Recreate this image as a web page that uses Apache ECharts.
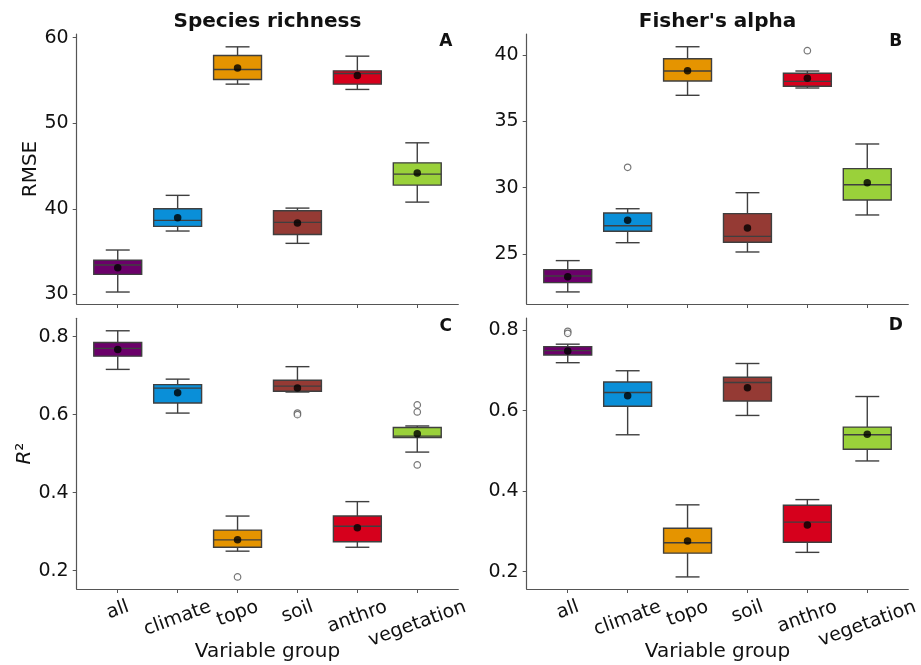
<!DOCTYPE html>
<html><head><meta charset="utf-8">
<script src="https://cdn.jsdelivr.net/npm/echarts@6/dist/echarts.min.js"></script>
<style>html,body{margin:0;padding:0;background:#fff}#c{width:921px;height:665px}</style>
</head><body><div id="c"></div>
<script>
// ---------- data ----------
const categories = ['all', 'climate', 'topo', 'soil', 'anthro', 'vegetation'];
const groupColors = ['#6b006a', '#0a8fd8', '#e59400', '#953a34', '#d6001c', '#9ad13a'];

// box stats per category: [low whisker, Q1, median, Q3, high whisker]
const richnessRmseBox = [
  [30.27, 32.33, 33.42, 34.00, 35.18],
  [37.40, 37.94, 38.64, 40.00, 41.57],
  [54.57, 55.12, 56.28, 57.92, 58.93],
  [35.96, 37.00, 38.41, 39.77, 40.08],
  [53.95, 54.57, 55.82, 56.12, 57.84],
  [40.78, 42.77, 44.05, 45.37, 47.71]
];
const richnessRmseMean = [33.10, 38.95, 56.47, 38.33, 55.58, 44.17];
const richnessRmseOutliers = [];

const alphaRmseBox = [
  [22.14, 22.84, 23.34, 23.82, 24.50],
  [25.85, 26.71, 27.13, 28.09, 28.41],
  [36.96, 38.04, 38.79, 39.72, 40.62],
  [25.15, 25.88, 26.33, 28.04, 29.62],
  [37.51, 37.64, 38.01, 38.62, 38.79],
  [27.94, 29.07, 30.22, 31.43, 33.29]
];
const alphaRmseMean = [23.29, 27.54, 38.81, 26.96, 38.24, 30.37];
const alphaRmseOutliers = [[1, 31.53], [4, 40.32]];

const richnessR2Box = [
  [0.716, 0.750, 0.770, 0.785, 0.815],
  [0.604, 0.630, 0.668, 0.677, 0.691],
  [0.250, 0.260, 0.279, 0.304, 0.340],
  [0.658, 0.660, 0.673, 0.688, 0.723],
  [0.260, 0.274, 0.314, 0.340, 0.377],
  [0.504, 0.541, 0.545, 0.567, 0.571]
];
const richnessR2Mean = [0.767, 0.656, 0.279, 0.668, 0.310, 0.551];
const richnessR2Outliers = [[2, 0.184], [3, 0.604], [3, 0.600], [5, 0.625], [5, 0.607], [5, 0.471]];

const alphaR2Box = [
  [0.719, 0.738, 0.749, 0.759, 0.765],
  [0.540, 0.611, 0.645, 0.671, 0.699],
  [0.187, 0.246, 0.272, 0.308, 0.366],
  [0.588, 0.624, 0.670, 0.683, 0.717],
  [0.248, 0.273, 0.323, 0.365, 0.379],
  [0.475, 0.504, 0.540, 0.559, 0.635]
];
const alphaR2Mean = [0.748, 0.637, 0.276, 0.657, 0.316, 0.541];
const alphaR2Outliers = [[0, 0.797], [0, 0.792]];

const rmseRichTicks = [30, 40, 50, 60];
const rmseAlphaTicks = [25, 30, 35, 40];
const r2Ticks = [0.2, 0.4, 0.6, 0.8];

const panelTitles = ['Species richness', "Fisher's alpha"];
const panelLetters = ['A', 'B', 'C', 'D'];
const xAxisTitle = 'Variable group';

// ---------- layout ----------
const FONT = '"DejaVu Sans", "Liberation Sans", sans-serif';
const AXIS_COLOR = '#555555';
const EDGE = '#3f3f3f';
const panels = [
  { box: richnessRmseBox, mean: richnessRmseMean, out: richnessRmseOutliers, ticks: rmseRichTicks, dec: 0,
    min: 28.87, max: 60.43, grid: { left: 76.7, top: 34, width: 381.6, height: 270 }, yName: 'RMSE', bottom: false },
  { box: alphaRmseBox, mean: alphaRmseMean, out: alphaRmseOutliers, ticks: rmseAlphaTicks, dec: 0,
    min: 21.23, max: 41.58, grid: { left: 526.7, top: 34, width: 381.6, height: 270 }, yName: '', bottom: false },
  { box: richnessR2Box, mean: richnessR2Mean, out: richnessR2Outliers, ticks: r2Ticks, dec: 1,
    min: 0.153, max: 0.847, grid: { left: 76.7, top: 318.3, width: 381.6, height: 270.7 }, yName: '{i|R}{n|²}', bottom: true },
  { box: alphaR2Box, mean: alphaR2Mean, out: alphaR2Outliers, ticks: r2Ticks, dec: 1,
    min: 0.157, max: 0.830, grid: { left: 526.7, top: 318, width: 381.6, height: 271 }, yName: '', bottom: true }
];

function renderBox(params, api) {
  const i = api.value(0);
  const lo = api.coord([i, api.value(1)]);
  const q1 = api.coord([i, api.value(2)]);
  const md = api.coord([i, api.value(3)]);
  const q3 = api.coord([i, api.value(4)]);
  const hi = api.coord([i, api.value(5)]);
  const unit = api.size([1, 0])[0];
  const w = unit * 0.8;
  const cx = lo[0];
  const lw = { stroke: EDGE, lineWidth: 1.4 };
  return {
    type: 'group',
    children: [
      { type: 'line', shape: { x1: cx, y1: hi[1], x2: cx, y2: q3[1] }, style: lw },
      { type: 'line', shape: { x1: cx, y1: q1[1], x2: cx, y2: lo[1] }, style: lw },
      { type: 'line', shape: { x1: cx - w / 4, y1: hi[1], x2: cx + w / 4, y2: hi[1] }, style: lw },
      { type: 'line', shape: { x1: cx - w / 4, y1: lo[1], x2: cx + w / 4, y2: lo[1] }, style: lw },
      { type: 'rect', shape: { x: cx - w / 2, y: q3[1], width: w, height: q1[1] - q3[1] },
        style: { fill: groupColors[i], stroke: EDGE, lineWidth: 1.4 } },
      { type: 'line', shape: { x1: cx - w / 2, y1: md[1], x2: cx + w / 2, y2: md[1] }, style: lw }
    ]
  };
}

const catIdx = categories.map((c, i) => i);
const option = {
  animation: false,
  backgroundColor: '#ffffff',
  textStyle: { fontFamily: FONT },
  grid: panels.map(p => Object.assign({ containLabel: false }, p.grid)),
  xAxis: panels.map((p, k) => ({
    type: 'value', gridIndex: k, min: -0.685, max: 5.685,
    axisLine: { show: true, onZero: false, lineStyle: { color: AXIS_COLOR, width: 1.2 } },
    axisTick: { show: true, customValues: catIdx, length: 4, lineStyle: { color: AXIS_COLOR, width: 1 } },
    axisLabel: { show: false, customValues: catIdx },
    splitLine: { show: false },
    name: p.bottom ? xAxisTitle : '', nameLocation: 'middle', nameGap: 53,
    nameTextStyle: { fontSize: 20, color: '#111', fontFamily: FONT }
  })),
  yAxis: panels.map((p, k) => ({
    type: 'value', gridIndex: k, min: p.min, max: p.max,
    axisLine: { show: true, onZero: false, lineStyle: { color: AXIS_COLOR, width: 1.2 } },
    axisTick: { show: true, customValues: p.ticks, length: 4, lineStyle: { color: AXIS_COLOR, width: 1 } },
    axisLabel: { show: true, customValues: p.ticks, margin: 8, fontSize: 19, color: '#111', fontFamily: FONT,
      formatter: v => Number(v).toFixed(p.dec) },
    splitLine: { show: false },
    name: p.yName, nameLocation: 'middle', nameGap: k === 2 ? 42 : 33,
    nameTextStyle: { fontSize: 20, color: '#111', fontFamily: FONT,
      rich: { i: { fontStyle: 'italic', fontSize: 20, fontFamily: FONT, color: '#111' },
              n: { fontSize: 20, fontFamily: FONT, color: '#111' } } }
  })),
  series: []
};

panels.forEach((p, k) => {
  option.series.push({
    type: 'custom', xAxisIndex: k, yAxisIndex: k, renderItem: renderBox,
    encode: { x: 0, y: [1, 2, 3, 4, 5] },
    data: p.box.map((b, i) => [i].concat(b)), z: 2
  });
  option.series.push({
    type: 'scatter', xAxisIndex: k, yAxisIndex: k, symbol: 'circle', symbolSize: 6.5,
    itemStyle: { color: '#ffffff', borderColor: '#555555', borderWidth: 1.2 },
    data: p.out, z: 3
  });
  option.series.push({
    type: 'scatter', xAxisIndex: k, yAxisIndex: k, symbol: 'circle', symbolSize: 7.5,
    itemStyle: { color: '#000000' },
    data: p.mean.map((m, i) => [i, m]), z: 4
  });
});

const chart = echarts.init(document.getElementById('c'), null, { renderer: 'canvas' });
chart.setOption(option);

// titles, panel letters and rotated category labels (placed through the axes)
const graphics = [];
[0, 1].forEach(k => {
  const g = panels[k].grid;
  graphics.push({ type: 'text', x: g.left + g.width / 2, y: 21.7,
    style: { text: panelTitles[k], fontSize: 20, fontWeight: 'bold', fontFamily: FONT, fill: '#111', align: 'center', verticalAlign: 'middle' } });
});
panels.forEach((p, k) => {
  const g = p.grid;
  graphics.push({ type: 'text', x: g.left + g.width - 12.5, y: g.top + 8,
    style: { text: panelLetters[k], fontSize: 17, fontWeight: 'bold', fontFamily: FONT, fill: '#111', align: 'center', verticalAlign: 'middle' } });
});
const ctx = document.createElement('canvas').getContext('2d');
const LABEL_SIZE = 19;
ctx.font = LABEL_SIZE + 'px ' + FONT;
const rot = 20 * Math.PI / 180;
panels.forEach((p, k) => {
  if (!p.bottom) return;
  const axisY = chart.convertToPixel({ yAxisIndex: k }, p.min);
  categories.forEach((name, i) => {
    const x = chart.convertToPixel({ xAxisIndex: k }, i);
    const w = ctx.measureText(name).width;
    const h = 21;
    const cy = axisY + 7.5 + (w / 2) * Math.sin(rot) + (h / 2) * Math.cos(rot);
    graphics.push({ type: 'text', x: x, y: cy, rotation: rot,
      style: { text: name, fontSize: LABEL_SIZE, fontFamily: FONT, fill: '#111', align: 'center', verticalAlign: 'middle' } });
  });
});
chart.setOption({ graphic: graphics });
</script>
</body></html>
